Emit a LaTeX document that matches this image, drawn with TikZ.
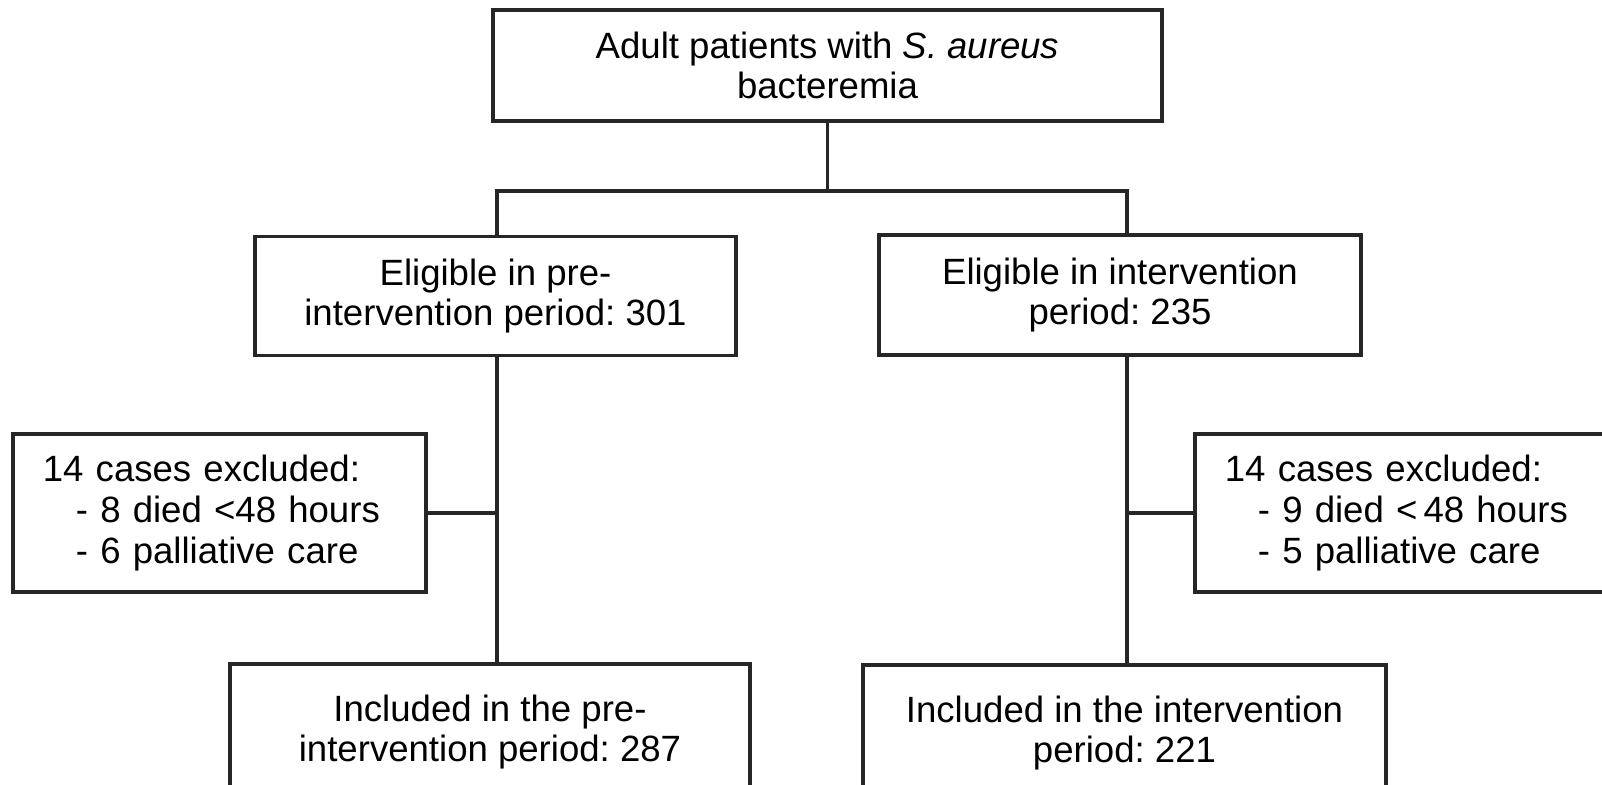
\documentclass[tikz,border=0pt]{standalone}
\usepackage{fontspec}
\setmainfont{Liberation Sans}
\usepackage{xcolor}
\usepackage{tikz}
\usetikzlibrary{positioning}
\frenchspacing

\begin{document}
\begin{tikzpicture}[
  x=0.01cm, y=-0.01cm,
  stage/.style={
    rectangle,
    draw=black!85,
    line width=1pt,
    fill=white,
    minimum width=#1,
    inner sep=0pt,
    font=\fontsize{10.4}{11.3}\selectfont,
    align=center
  },
  excl/.style={
    rectangle,
    draw=black!85,
    line width=1pt,
    fill=white,
    minimum height=1.58cm,
    inner xsep=0.30cm,
    inner ysep=0pt,
    text width=#1,
    font=\fontsize{10.4}{11.6}\selectfont,
    align=left
  },
  link/.style={
    line width=1pt,
    draw=black!85
  }
]

% Canvas
\clip (0,0) rectangle (1602,785);
\fill[white] (0,0) rectangle (1602,785);

% Top box
\node[stage=6.69cm, minimum height=1.11cm] (adult) at (827.5,65.5)
  {Adult patients with \textit{S. aureus}\\bacteremia};

% Eligible boxes
\node[stage=4.81cm, minimum height=1.19cm] (elig-pre) at (495.5,296)
  {Eligible in pre-\\intervention period: 301};
\node[stage=4.82cm, minimum height=1.20cm] (elig-int) at (1120,295)
  {Eligible in intervention\\period: 235};

% Excluded boxes
\node[excl=3.53cm] (excl-pre) at (219.5,513)
  {14 cases excluded:\\\hspace*{0.33cm}- 8 died <48 hours\\\hspace*{0.33cm}- 6 palliative care};
\node[excl=3.65cm] (excl-int) at (1407.5,513)
  {14 cases excluded:\\\hspace*{0.33cm}- 9 died <\,48 hours\\\hspace*{0.33cm}- 5 palliative care};

% Included boxes
\node[stage=5.20cm, minimum height=1.36cm] (incl-pre) at (490,732)
  {Included in the pre-\\intervention period: 287};
\node[stage=5.23cm, minimum height=1.36cm] (incl-int) at (1124.5,733)
  {Included in the intervention\\period: 221};

% Fork points
\coordinate (fork-l) at (497,191);
\coordinate (fork-r) at (1127,191);

% Split from top box
\draw[link] (adult.south) -- (adult.south |- fork-l);
\draw[link] (elig-pre.north -| fork-l) -- (fork-l) -- (fork-r) -- (elig-int.north -| fork-r);

% Left column
\draw[link] (elig-pre.south -| fork-l) -- (incl-pre.north -| fork-l);
\draw[link] (excl-pre.east) -- (excl-pre.east -| fork-l);

% Right column
\draw[link] (elig-int.south -| fork-r) -- (incl-int.north -| fork-r);
\draw[link] (excl-int.west) -- (excl-int.west -| fork-r);

\end{tikzpicture}
\end{document}
